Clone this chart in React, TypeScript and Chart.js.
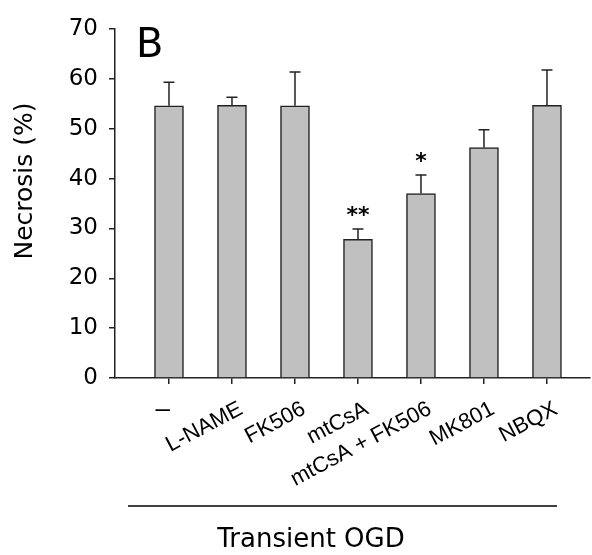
import React, { useEffect, useRef } from "react";
import { Chart, registerables } from "chart.js";

Chart.register(...registerables);

const categories = ["–", "L-NAME", "FK506", "mtCsA", "mtCsA + FK506", "MK801", "NBQX"];
const necrosis = [54.6, 54.7, 54.6, 27.8, 37.0, 46.2, 54.7];
const errorsUp = [4.7, 1.6, 6.8, 2.1, 3.7, 3.6, 7.1];
const significance = ["", "", "", "**", "*", "", ""];
const yTicks = [0, 10, 20, 30, 40, 50, 60, 70];
const yTitle = "Necrosis (%)";
const panelLabel = "B";
const groupLabel = "Transient OGD";

const FONT = "'DejaVu Sans', sans-serif";
const XFONT = "'Liberation Sans', Arial, sans-serif";

const annotations = {
  id: "annotations",
  afterDatasetsDraw(chart: any) {
    const { ctx, scales } = chart;
    const xs = scales.x;
    const ys = scales.y;
    ctx.save();
    ctx.strokeStyle = "#222";
    ctx.lineWidth = 1.5;
    necrosis.forEach((v, i) => {
      const x = xs.getPixelForValue(i);
      const yb = ys.getPixelForValue(v);
      const yt = ys.getPixelForValue(v + errorsUp[i]);
      ctx.beginPath();
      ctx.moveTo(x, yb);
      ctx.lineTo(x, yt);
      ctx.moveTo(x - 5.5, yt);
      ctx.lineTo(x + 5.5, yt);
      ctx.stroke();
      if (significance[i]) {
        ctx.fillStyle = "#000";
        ctx.font = `bold 22px ${FONT}`;
        ctx.textAlign = "center";
        ctx.textBaseline = "middle";
        ctx.fillText(significance[i], x, yt - 13);
      }
    });
    ctx.restore();
  },
  afterDraw(chart: any) {
    const { ctx, scales } = chart;
    ctx.save();
    ctx.fillStyle = "#000";
    ctx.font = `26px ${XFONT}`;
    ctx.textAlign = "right";
    ctx.textBaseline = "middle";
    ctx.fillText(categories[0], scales.x.getPixelForValue(0) + 1, 410);
    ctx.font = `40px ${FONT}`;
    ctx.textAlign = "left";
    ctx.textBaseline = "alphabetic";
    ctx.fillText(panelLabel, 136, 57);
    ctx.save();
    ctx.translate(25, 181);
    ctx.rotate(-Math.PI / 2);
    ctx.font = `25px ${FONT}`;
    ctx.textAlign = "center";
    ctx.textBaseline = "middle";
    ctx.fillText(yTitle, 0, 0);
    ctx.restore();
    ctx.strokeStyle = "#000";
    ctx.lineWidth = 1.5;
    ctx.beginPath();
    ctx.moveTo(128, 506);
    ctx.lineTo(557, 506);
    ctx.stroke();
    ctx.font = `26px ${FONT}`;
    ctx.textAlign = "center";
    ctx.textBaseline = "alphabetic";
    ctx.fillText(groupLabel, 311, 547);
    ctx.restore();
  },
};

export default function App() {
  const ref = useRef<HTMLCanvasElement | null>(null);
  useEffect(() => {
    if (!ref.current) return;
    const chart = new Chart(ref.current, {
      type: "bar",
      data: {
        datasets: [
          {
            data: necrosis.map((v, i) => ({ x: i, y: v })),
            backgroundColor: "#c0c0c0",
            borderColor: "#222",
            borderWidth: 1.5,
            barThickness: 29,
          },
        ],
      },
      options: {
        responsive: false,
        animation: false,
        layout: { padding: { top: 29, right: 2, left: 0, bottom: 0 } },
        plugins: { legend: { display: false }, tooltip: { enabled: false }, title: { display: false } },
        scales: {
          x: {
            type: "linear",
            offset: false,
            min: -0.857,
            max: 6.683,
            afterBuildTicks: (scale: any) => {
              scale.ticks = categories.map((_, i) => ({ value: i }));
            },
            afterFit: (scale: any) => {
              scale.height = 177;
            },
            grid: { offset: false, drawOnChartArea: false, drawTicks: true, tickLength: 6, tickColor: "#222", lineWidth: 1.5 },
            border: { display: true, color: "#222", width: 1.5 },
            ticks: {
              autoSkip: false,
              minRotation: 28,
              maxRotation: 28,
              padding: 12,
              labelOffset: 9,
              color: "#000",
              font: { family: XFONT, size: 22 },
              callback: (v: any) => {
                const i = Math.round(Number(v));
                return i === 0 ? "" : categories[i] ?? "";
              },
            },
          },
          y: {
            min: 0,
            max: 70,
            afterBuildTicks: (scale: any) => {
              scale.ticks = yTicks.map((t) => ({ value: t }));
            },
            afterFit: (scale: any) => {
              scale.width = 115;
            },
            grid: { drawOnChartArea: false, drawTicks: true, tickLength: 6, tickColor: "#222", lineWidth: 1.5 },
            border: { display: true, color: "#222", width: 1.5 },
            ticks: {
              padding: 11,
              color: "#000",
              font: { family: FONT, size: 23 },
            },
          },
        },
      },
      plugins: [annotations],
    });
    return () => chart.destroy();
  }, []);
  return (
    <div style={{ position: "absolute", left: 0, top: 0, width: 592, height: 555, background: "#fff" }}>
      <canvas ref={ref} width={592} height={555} />
    </div>
  );
}
